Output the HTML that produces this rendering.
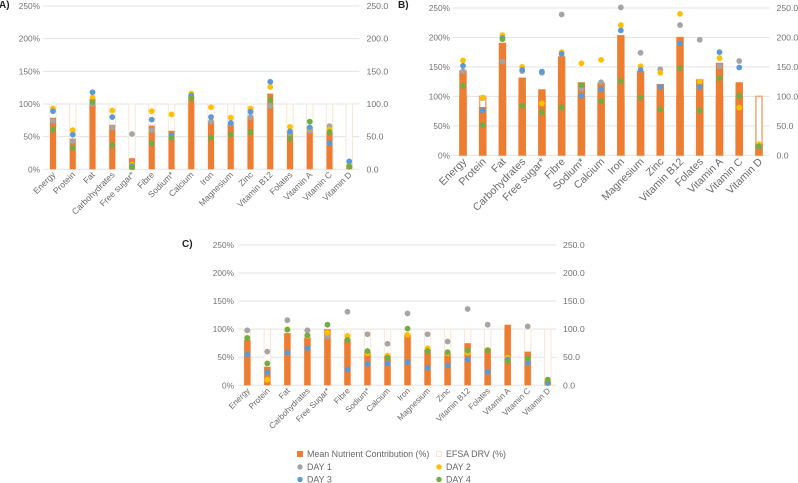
<!DOCTYPE html>
<html lang="en">
<head>
<meta charset="utf-8">
<title>Nutrient contribution charts</title>
<style>
html,body{margin:0;padding:0;background:#fff;width:798px;height:483px;overflow:hidden}
svg{display:block;font-family:"Liberation Sans",sans-serif;filter:blur(0.3px)}
</style>
</head>
<body>
<svg id="figure" width="798" height="483" viewBox="0 0 798 483" xmlns="http://www.w3.org/2000/svg"></svg>
<script>
const categoriesA = ["Energy","Protein","Fat","Carbohydrates","Free sugar*","Fibre","Sodium*","Calcium","Iron","Magnesium","Zinc","Vitamin B12","Folates","Vitamin A","Vitamin C","Vitamin D"];
const categoriesC = ["Energy","Protein","Fat","Carbohydrates","Free Sugar*","Fibre","Sodium*","Calcium","Iron","Magnesium","Zinc","Vitamin B12","Folates","Vitamin A","Vitamin C","Vitamin D"];
const leftTicks = [0,50,100,150,200,250];
const efsaDrv = [100,100,100,100,100,100,100,100,100,100,100,100,100,100,100,100];

const meanA = [79,47,108,68,17,67,59,113,74,69,81,116,57,65,56,7];
const day1A = [74,43,100,64,54,60,50,110,73,70,80,97,55,59,66,4];
const day2A = [93,60,110,90,7,89,84,116,95,79,93,126,65,63,61,6];
const day3A = [89,53,118,80,5,76,52,113,80,71,88,134,58,64,40,12];
const day4A = [61,33,103,37,3,40,48,109,48,53,57,106,47,73,57,4];

const meanB = [144,82,191,132,112,168,124,123,204,143,121,201,129,157,124,20];
const day1B = [143,97,159,143,140,239,113,124,251,174,146,221,196,151,160,15];
const day2B = [161,98,204,150,88,175,156,162,221,151,140,240,125,165,81,19];
const day3B = [152,76,199,145,142,172,101,112,212,145,116,190,116,175,149,15];
const day4B = [118,51,197,84,73,81,119,92,126,98,78,148,76,131,101,15];

const meanC = [81,33,93,85,100,82,60,53,90,63,58,75,66,108,60,8];
const day1C = [98,60,116,98,87,131,91,74,128,91,78,136,108,45,105,6];
const day2C = [85,10,100,88,94,88,57,53,90,66,57,58,63,49,47,8];
const day3C = [55,23,58,66,null,28,38,39,41,31,35,46,24,46,40,4];
const day4C = [84,39,99,89,108,81,61,49,101,61,59,62,62,43,48,10];

const SVGNS = "http://www.w3.org/2000/svg";
const figure = document.getElementById("figure");
function make(tag, attrs, parent){
  const el = document.createElementNS(SVGNS, tag);
  for (const k in attrs) el.setAttribute(k, attrs[k]);
  parent.appendChild(el);
  return el;
}
const dayColors = ["#a5a5a5","#ffc000","#5b9bd5","#70ad47"];

function drawChart(o){
  const group = make("g", {}, figure);
  
  
  const yScale = v => o.y0 + (o.y250 - o.y0) * v / 250;
  const xScale = i => o.x0 + o.step * i;

  leftTicks.forEach(t => {
    const line = make("line", {x1:o.gridL, x2:o.gridR, y1:yScale(t), y2:yScale(t), stroke:"#e3e3e3", "stroke-width":1}, group);
    
    
    const left = make("text", {x:o.gridL - o.tickGap, y:yScale(t) + 3, "text-anchor":"end", "font-size":8.3, fill:"#727272"}, group);
    left.textContent = t + "%";
    
    
    const right = make("text", {x:o.gridR + 7, y:yScale(t) + 3, "font-size":8.7, fill:"#727272"}, group);
    right.textContent = t.toFixed(1);
    
    
  });

  o.categories.forEach((name, i) => {
    const cx = xScale(i);
    const drv = make("rect", {x:cx - o.drvW/2, y:yScale(efsaDrv[i]), width:o.drvW, height:yScale(0) - yScale(efsaDrv[i]), fill:"#fff", stroke:o.drvStroke, "stroke-width":o.drvSW}, group);
    
    
    const bar = make("rect", {x:cx - o.barW/2, y:yScale(o.mean[i]), width:o.barW, height:yScale(0) - yScale(o.mean[i]), fill:"#ed7d31"}, group);
    
    
    const label = make("text", {transform:"translate(" + (cx + o.labelDx) + " " + (o.y0 + o.labelDy) + ") rotate(-45)", "text-anchor":"end", "font-size":o.labelSize, fill:"#6a6a6a"}, group);
    label.textContent = name;
    
    
  });

  o.days.forEach((series, d) => {
    series.forEach((v, i) => {
      if (v === null) return;
      const pt = make("circle", {cx:xScale(i), cy:yScale(v), r:2.9, fill:dayColors[d]}, group);
      
      
    });
  });

  const tag = make("text", {x:o.tagX, y:o.tagY, "font-size":10, "font-weight":"bold", fill:"#222"}, group);
  tag.textContent = o.tag;
  
  
}

drawChart({id:"a", tag:"A)", tagX:-1, tagY:8, categories:categoriesA, mean:meanA, days:[day1A,day2A,day3A,day4A],
  x0:53, step:19.75, y0:169.3, y250:6, gridL:43, gridR:359.5, tickGap:3, barW:6, drvW:6.4, drvStroke:"#fce4d6", drvSW:1, labelSize:8.6, labelDx:3, labelDy:6});
drawChart({id:"b", tag:"B)", tagX:398, tagY:8, categories:categoriesA, mean:meanB, days:[day1B,day2B,day3B,day4B],
  x0:463, step:19.73, y0:155.3, y250:8, gridL:453, gridR:769.5, tickGap:3, barW:7.4, drvW:6.2, drvStroke:"#f4ab7c", drvSW:1.6, labelSize:10.6, labelDx:4, labelDy:7});
drawChart({id:"c", tag:"C)", tagX:182, tagY:247, categories:categoriesC, mean:meanC, days:[day1C,day2C,day3C,day4C],
  x0:247.3, step:20.03, y0:385.3, y250:245, gridL:238, gridR:556, tickGap:4, barW:6.4, drvW:6.4, drvStroke:"#fce4d6", drvSW:1, labelSize:8.2, labelDx:3, labelDy:6});

const legendSwatches = [
  {label:"Mean Nutrient Contribution (%)", x:300, y:454, kind:"bar", name:"legend-mean"},
  {label:"EFSA DRV (%)", x:439, y:454, kind:"drv", name:"legend-efsa"},
  {label:"DAY 1", x:300, y:467, kind:0, name:"legend-day-1"},
  {label:"DAY 2", x:439, y:467, kind:1, name:"legend-day-2"},
  {label:"DAY 3", x:300, y:479.5, kind:2, name:"legend-day-3"},
  {label:"DAY 4", x:439, y:479.5, kind:3, name:"legend-day-4"}
];
const legend = make("g", {}, figure);


legendSwatches.forEach(e => {
  if (e.kind === "bar") {
    make("rect", {x:e.x - 3, y:e.y - 3, width:6, height:6, fill:"#ed7d31"}, legend);
  } else if (e.kind === "drv") {
    make("rect", {x:e.x - 2.5, y:e.y - 2.5, width:5, height:5, fill:"#fff", stroke:"#fce4d6"}, legend);
  } else {
    make("circle", {cx:e.x, cy:e.y, r:2.7, fill:dayColors[e.kind]}, legend);
  }
  const t = make("text", {x:e.x + 7, y:e.y + 3, "font-size":8.9, fill:"#666"}, legend);
  t.textContent = e.label;
  
  
});
</script>
</body>
</html>
